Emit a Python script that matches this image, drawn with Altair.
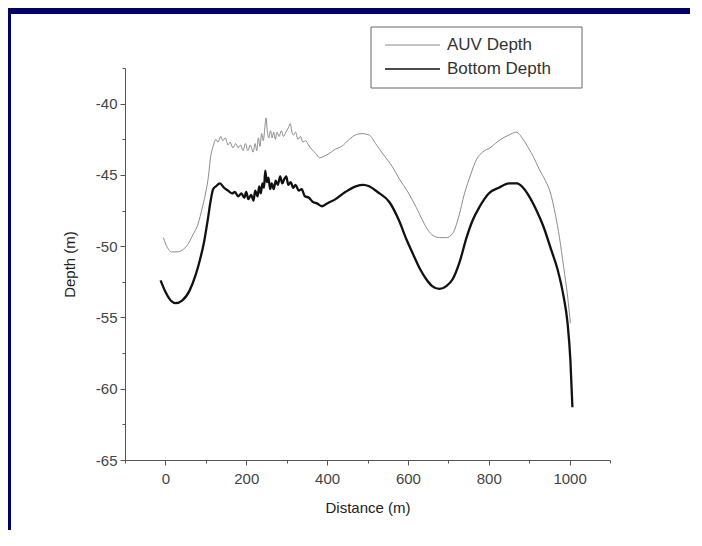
import altair as alt
import pandas as pd

# ---- data ----
bottom_dist = [-12, 0, 10, 25, 42, 60, 75, 85, 95, 105, 112, 118, 125, 135, 145, 155, 165, 172,
               180, 188, 195, 200, 205, 212, 218, 222, 228, 232, 236, 240, 244, 247, 251, 255,
               259, 263, 268, 273, 278, 284, 289, 294, 299, 304, 310, 316, 322, 330, 337, 345,
               355, 365, 375, 387, 400, 421, 445, 471, 490, 504, 525, 554, 578, 596, 615, 630,
               645, 660, 678, 695, 711, 728, 745, 760, 778, 800, 825, 850, 870, 885, 900, 920,
               935, 955, 970, 985, 995, 1002, 1007]
bottom_depth = [-52.4, -53.2, -53.7, -54.0, -53.8, -53.1, -52.0, -51.0, -49.8, -48.1, -46.8, -46.0,
                -45.8, -45.6, -45.9, -46.1, -46.3, -46.2, -46.5, -46.3, -46.6, -46.2, -46.7, -46.4,
                -46.8, -46.1, -46.5, -45.8, -46.3, -45.6, -45.9, -44.7, -45.5, -45.2, -46.0, -45.6,
                -46.0, -45.4, -45.7, -45.1, -45.6, -45.3, -45.1, -45.7, -45.5, -45.9, -45.7, -46.1,
                -46.0, -46.5, -46.6, -46.9, -47.0, -47.2, -47.0, -46.7, -46.2, -45.8, -45.7, -45.8,
                -46.2, -46.9, -48.2, -49.5, -50.7, -51.6, -52.3, -52.8, -53.0, -52.8, -52.3, -51.1,
                -49.4, -48.2, -47.2, -46.3, -45.9, -45.6, -45.6, -45.9, -46.5, -47.6, -48.6, -50.3,
                -51.6, -53.5, -55.4, -58.0, -61.3]

auv_dist = [-5, 5, 15, 30, 45, 55, 68, 80, 92, 100, 106, 112, 118, 125, 130, 137, 142, 148, 155,
            160, 167, 174, 180, 186, 192, 198, 204, 210, 217, 222, 226, 230, 234, 238, 242, 246,
            249, 252, 256, 260, 264, 268, 272, 276, 281, 287, 292, 298, 304, 309, 313, 317, 322,
            328, 334, 340, 347, 354, 362, 372, 382, 392, 405, 420, 436, 455, 470, 486, 504, 520,
            540, 561, 579, 600, 621, 640, 653, 665, 678, 695, 711, 725, 740, 755, 770, 785, 803,
            830, 850, 868, 885, 900, 910, 925, 940, 952, 965, 975, 985, 995, 1002]
auv_depth = [-49.4, -50.1, -50.4, -50.4, -50.2, -49.9, -49.2, -48.5, -47.2, -46.2, -45.2, -43.7,
             -43.0, -42.5, -42.7, -42.3, -42.6, -42.4, -42.9, -42.7, -43.1, -42.8, -43.1, -42.9,
             -43.3, -42.8, -43.3, -42.9, -43.4, -42.8, -43.3, -42.4, -43.0, -42.1, -42.6, -41.7,
             -41.0, -41.9, -42.4, -41.9, -42.4, -42.0, -42.5, -42.0, -42.3, -41.9, -42.3, -42.0,
             -41.7, -41.4, -42.0, -42.2, -42.0, -42.5, -42.3, -42.7, -42.6, -42.9, -43.2, -43.5,
             -43.8, -43.7, -43.5, -43.2, -43.0, -42.5, -42.2, -42.1, -42.2, -42.8, -43.6, -44.4,
             -45.3, -46.2, -47.3, -48.4, -49.0, -49.3, -49.4, -49.4, -49.1, -48.0, -46.3, -45.0,
             -43.9, -43.4, -43.1, -42.5, -42.2, -42.0, -42.5, -43.2, -43.7, -44.6, -45.4, -46.2,
             -47.8, -49.4, -51.4, -53.5, -55.4]

series_names = ["AUV Depth", "Bottom Depth"]
series_colors = ["#8c8c8c", "#111111"]
series_widths = [1.0, 2.3]
legend_widths = [1.0, 1.6]

x_major = [0, 200, 400, 600, 800, 1000]
x_minor = [-100, 100, 300, 500, 700, 900, 1100]
y_major = [-65, -60, -55, -50, -45, -40]
y_minor = [-62.5, -57.5, -52.5, -47.5, -42.5, -37.5]

x_domain = [-100, 1100]
y_domain = [-65, -37.5]

df = pd.concat([
    pd.DataFrame({"dist": auv_dist, "depth": auv_depth, "series": series_names[0]}),
    pd.DataFrame({"dist": bottom_dist, "depth": bottom_depth, "series": series_names[1]}),
], ignore_index=True)

W, H = 485, 392
FONT = "Liberation Sans"

xs = alt.Scale(domain=x_domain, nice=False, zero=False)
ys = alt.Scale(domain=y_domain, nice=False, zero=False)

x_axis = alt.Axis(
    values=sorted(x_major + x_minor),
    labelExpr="datum.value % 200 === 0 ? '' + datum.value : ''",
    tickSize={"condition": {"test": "datum.value % 200 !== 0", "value": 3}, "value": 5},
    grid=False, domainColor="#555555", tickColor="#555555",
    labelFont=FONT, labelFontSize=15, labelColor="#444444", labelPadding=6,
    titleFont=FONT, titleFontSize=15, titleFontWeight="normal", titleColor="#222222",
    titlePadding=14,
)
y_axis = alt.Axis(
    values=sorted(y_major + y_minor),
    labelExpr="datum.value % 5 === 0 ? '' + datum.value : ''",
    tickSize={"condition": {"test": "datum.value % 5 !== 0", "value": 3}, "value": 5},
    grid=False, domainColor="#555555", tickColor="#555555",
    labelFont=FONT, labelFontSize=15, labelColor="#444444", labelPadding=3,
    titleFont=FONT, titleFontSize=15, titleFontWeight="normal", titleColor="#222222",
    titlePadding=18,
)

lines = alt.Chart(df).mark_line(interpolate="monotone").encode(
    x=alt.X("dist:Q", scale=xs, axis=x_axis, title="Distance (m)"),
    y=alt.Y("depth:Q", scale=ys, axis=y_axis, title="Depth (m)"),
    color=alt.Color("series:N", scale=alt.Scale(domain=series_names, range=series_colors), legend=None),
    strokeWidth=alt.StrokeWidth("series:N", scale=alt.Scale(domain=series_names, range=series_widths), legend=None),
)

# decorative navy frame (top and left)
one = alt.Data(values=[{"k": 1}])
frame_top = alt.Chart(one).mark_rect(color="#000066").encode(
    x=alt.value(-117), x2=alt.value(W + 80), y=alt.value(-60), y2=alt.value(-54))
frame_left = alt.Chart(one).mark_rect(color="#000066").encode(
    x=alt.value(-117), x2=alt.value(-114), y=alt.value(-60), y2=alt.value(H + 70))

# legend box
legend_box = alt.Chart(one).mark_rect(fill="white", stroke="#666666", strokeWidth=1).encode(
    x=alt.value(246), x2=alt.value(457), y=alt.value(-41), y2=alt.value(20))

legend_layers = []
for i, name in enumerate(series_names):
    ld = alt.Data(values=[{"s": name}])
    yy = -23 + 24 * i
    legend_layers.append(alt.Chart(ld).mark_rule(color=series_colors[i], strokeWidth=legend_widths[i]).encode(
        x=alt.value(260), x2=alt.value(315), y=alt.value(yy)))
    legend_layers.append(alt.Chart(ld).mark_text(align="left", baseline="middle", font=FONT,
                                                 fontSize=17, color="#333333").encode(
        x=alt.value(322), y=alt.value(yy), text="s:N"))

chart = alt.layer(frame_top, frame_left, legend_box, *legend_layers, lines).properties(
    width=W, height=H,
    autosize=alt.AutoSizeParams(type="none"),
    padding={"left": 117, "top": 60, "right": 80, "bottom": 70},
    background="white",
).configure_view(stroke=None)

chart.save("out.html", embed_options={"renderer": "svg", "actions": False})
